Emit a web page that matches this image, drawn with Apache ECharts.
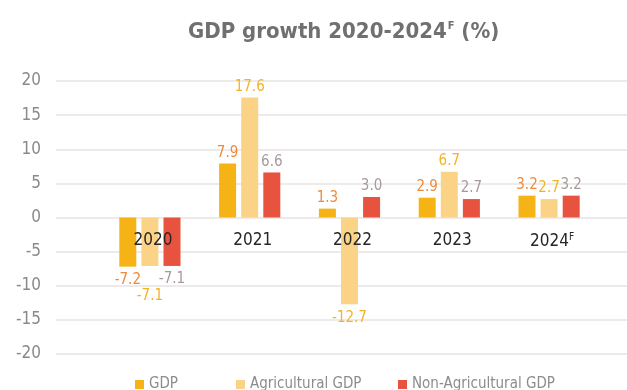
<!DOCTYPE html>
<html>
<head>
<meta charset="utf-8">
<script src="https://cdn.jsdelivr.net/npm/echarts@6/dist/echarts.min.js"></script>
<style>
  html, body { margin: 0; padding: 0; background: #fff; }
  #chart { width: 627px; height: 390px; }
</style>
</head>
<body>
<div id="chart"></div>
<script>
// GDP growth by year, percent
const years = ['2020', '2021', '2022', '2023', '2024F'];
const gdp = [-7.2, 7.9, 1.3, 2.9, 3.2];
const agriculturalGdp = [-7.1, 17.6, -12.7, 6.7, 2.7];
const nonAgriculturalGdp = [-7.1, 6.6, 3.0, 2.7, 3.2];
const yTicks = [-20, -15, -10, -5, 0, 5, 10, 15, 20];

const FONT = "'Liberation Sans Narrow', 'DejaVu Sans Condensed', sans-serif";
const yMin = yTicks[0];
const yMax = yTicks[yTicks.length - 1];
const yStep = yTicks[1] - yTicks[0];

const CHART_H = 390;
const GRID_TOP = 81;
const GRID_BOTTOM = 36;
// lift the year axis from the plot bottom up to the zero line
const plotH = CHART_H - GRID_TOP - GRID_BOTTOM;
const zeroLift = -plotH * (0 - yMin) / (yMax - yMin);

function yearLabel(v) {
  // a trailing F marks a forecast year and is set as a superscript
  return /F$/.test(v) ? v.slice(0, -1) + '{sup|F}' : v;
}

function barSeries(name, values, color, labelColor, nudge) {
  return {
    name: name,
    type: 'bar',
    xAxisIndex: 1,
    yAxisIndex: 1,
    z: 2,
    barWidth: 17,
    barGap: '30%',
    itemStyle: { color: color },
    data: values.map(function (v, i) {
      const item = {
        value: v,
        label: {
          position: v < 0 ? 'bottom' : 'top',
          distance: v < 0 ? 6 : 3
        }
      };
      if (nudge && nudge[i]) item.label.offset = nudge[i];
      return item;
    }),
    label: {
      show: true,
      color: labelColor,
      fontFamily: FONT,
      fontSize: 15,
      formatter: function (p) { return p.value.toFixed(1); }
    }
  };
}

function legendAt(name, left) {
  return {
    data: [name],
    left: left,
    top: 372,
    itemWidth: 9,
    itemHeight: 9,
    icon: 'rect',
    textStyle: { color: '#8c8c8c', fontFamily: FONT, fontSize: 15 }
  };
}

const chart = echarts.init(document.getElementById('chart'), null, { renderer: 'canvas' });

chart.setOption({
  animation: false,
  backgroundColor: '#ffffff',
  title: {
    text: 'GDP growth 2020-2024{sup|F} (%)',
    left: 183,
    top: 16,
    textStyle: {
      color: '#707070',
      fontFamily: FONT,
      fontSize: 22,
      fontWeight: 'bold',
      rich: {
        sup: {
          color: '#707070',
          fontFamily: FONT,
          fontSize: 11,
          fontWeight: 'bold',
          verticalAlign: 'top',
          padding: [0, 0, 10, 1]
        }
      }
    }
  },
  legend: [
    legendAt('GDP', 130),
    legendAt('Agricultural GDP', 231),
    legendAt('Non-Agricultural GDP', 393)
  ],
  grid: [
    // full-width grid carrying the value scale and gridlines
    { left: 56, right: 0, top: GRID_TOP, bottom: GRID_BOTTOM },
    // grid holding the year bands
    { left: 100, width: 499, top: GRID_TOP, bottom: GRID_BOTTOM }
  ],
  xAxis: [
    { gridIndex: 0, type: 'value', show: false, min: 0, max: 1 },
    {
      gridIndex: 1,
      type: 'category',
      data: years,
      position: 'bottom',
      offset: zeroLift,
      z: 10,
      axisLine: { show: false, onZero: false },
      axisTick: { show: false },
      axisLabel: {
        interval: 0,
        hideOverlap: false,
        margin: 15,
        color: '#262626',
        fontFamily: FONT,
        fontSize: 17,
        padding: [0, 0, 0, 6],
        formatter: yearLabel,
        rich: {
          sup: { fontFamily: FONT, fontSize: 10, color: '#262626', verticalAlign: 'top', padding: [0, 0, 8, 0] }
        }
      }
    }
  ],
  yAxis: [
    {
      gridIndex: 0,
      type: 'value',
      min: yMin,
      max: yMax,
      interval: yStep,
      axisLine: { show: false },
      axisTick: { show: false },
      axisLabel: { margin: 15, color: '#8a8a8a', fontFamily: FONT, fontSize: 17 },
      splitLine: { lineStyle: { color: '#eeeaea', width: 2 } }
    },
    {
      gridIndex: 1,
      type: 'value',
      min: yMin,
      max: yMax,
      interval: yStep,
      show: false,
      splitLine: { show: false }
    }
  ],
  series: [
    barSeries('GDP', gdp, '#f5b316', '#ee8a3c'),
    barSeries('Agricultural GDP', agriculturalGdp, '#fad386', '#f4b324', { 0: [0, 17] }),
    barSeries('Non-Agricultural GDP', nonAgriculturalGdp, '#e8533f', '#a8999a')
  ]
});
</script>
</body>
</html>
